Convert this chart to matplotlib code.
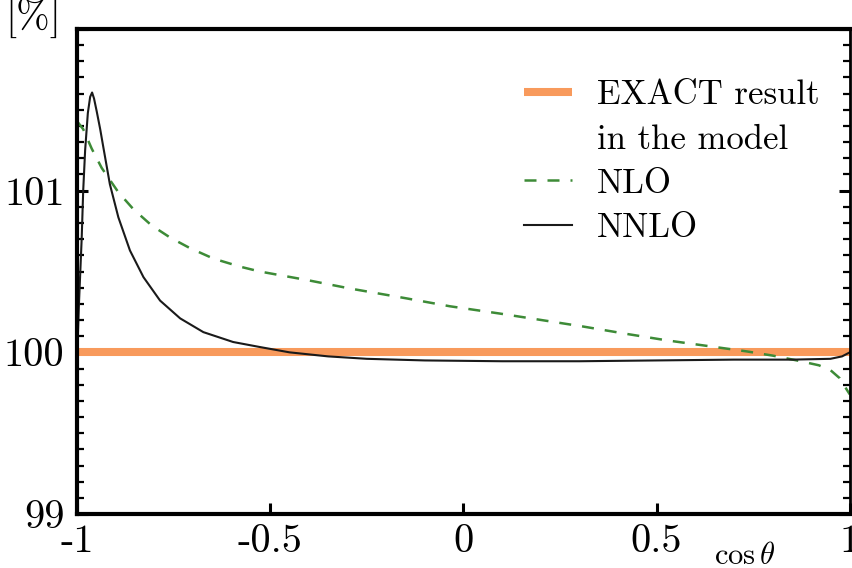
import matplotlib
matplotlib.use('Agg')
import matplotlib.pyplot as plt
from matplotlib.ticker import MultipleLocator

plt.rcParams['font.family'] = ['cmr10', 'DejaVu Serif']
plt.rcParams['mathtext.fontset'] = 'cm'
plt.rcParams['axes.unicode_minus'] = False

# exact result (flat 100%)
x_exact = [-1.0, 1.0]
y_exact = [100.0, 100.0]

# NLO approximation
x_nlo = [-1.0, -0.984, -0.962, -0.936, -0.893, -0.854, -0.807, -0.759, -0.708,
         -0.647, -0.578, -0.527, -0.4, -0.294, -0.15, -0.035, 0.094, 0.215,
         0.309, 0.42, 0.527, 0.63, 0.733, 0.8, 0.863, 0.92, 0.95, 0.974, 0.992, 1.0]
y_nlo = [101.43, 101.38, 101.26, 101.14, 100.99, 100.885, 100.785, 100.71, 100.645,
         100.58, 100.53, 100.50, 100.445, 100.395, 100.335, 100.285, 100.24, 100.195,
         100.16, 100.115, 100.074, 100.04, 100.006, 99.98, 99.95, 99.92, 99.89, 99.84, 99.77, 99.74]

# NNLO approximation
x_nnlo = [-1.0, -0.995, -0.988, -0.984, -0.979, -0.972, -0.966, -0.961, -0.956,
          -0.949, -0.940, -0.932, -0.915, -0.893, -0.863, -0.828, -0.785, -0.733,
          -0.673, -0.596, -0.527, -0.45, -0.35, -0.25, -0.1, 0.1, 0.3, 0.5, 0.7,
          0.85, 0.95, 0.98, 1.0]
y_nnlo = [99.95, 100.3, 100.7, 101.0, 101.25, 101.48, 101.58, 101.607, 101.57,
          101.49, 101.38, 101.27, 101.04, 100.835, 100.63, 100.465, 100.32, 100.21,
          100.125, 100.064, 100.033, 100.0, 99.975, 99.96, 99.95, 99.945, 99.945,
          99.95, 99.955, 99.955, 99.96, 99.975, 100.0]

fig = plt.figure(figsize=(8.52, 5.68), dpi=100)
ax = fig.add_axes([0.0904, 0.095, 0.907, 0.854])

ax.plot(x_exact, y_exact, color='#f89a5c', lw=5.8, solid_capstyle='butt',
        label='EXACT result')
ax.plot([], [], color='none', label='in the model')
ax.plot(x_nlo, y_nlo, color='#3d8b37', lw=1.8, dashes=(4.8, 4.4), label='NLO')
ax.plot(x_nnlo, y_nnlo, color='#1a1a1a', lw=1.5, label='NNLO')

ax.set_xlim(-1, 1)
ax.set_ylim(99, 102)

ax.set_xticks([-1, -0.5, 0, 0.5, 1])
ax.set_xticklabels(['-1', '-0.5', '0', '0.5', '1'])
ax.set_yticks([99, 100, 101, 102])
ax.set_yticklabels(['99', '100', '101', ''])
ax.yaxis.set_minor_locator(MultipleLocator(0.1))

ax.tick_params(axis='both', which='both', direction='in', labelsize=29)
ax.tick_params(axis='x', which='major', length=8, width=2.2, pad=7)
ax.tick_params(axis='y', which='major', length=8, width=2.2, pad=9, right=True)
ax.tick_params(axis='y', which='minor', length=5, width=1.6, right=True)

for side in ['left', 'bottom', 'top']:
    ax.spines[side].set_linewidth(3.0)
ax.spines['right'].set_linewidth(2.0)

ax.text(-0.057, 1.02, '[%]', transform=ax.transAxes, fontsize=29,
        ha='center', va='center')
ax.text(0.864, -0.088, r'$\cos\theta$', transform=ax.transAxes, fontsize=22,
        ha='center', va='center')

leg = ax.legend(loc='upper left', bbox_to_anchor=(0.56, 0.924), frameon=False,
                fontsize=25, handlelength=1.4, handletextpad=0.72,
                labelspacing=0.36, borderaxespad=0)

fig.savefig('out.png', dpi=100)
